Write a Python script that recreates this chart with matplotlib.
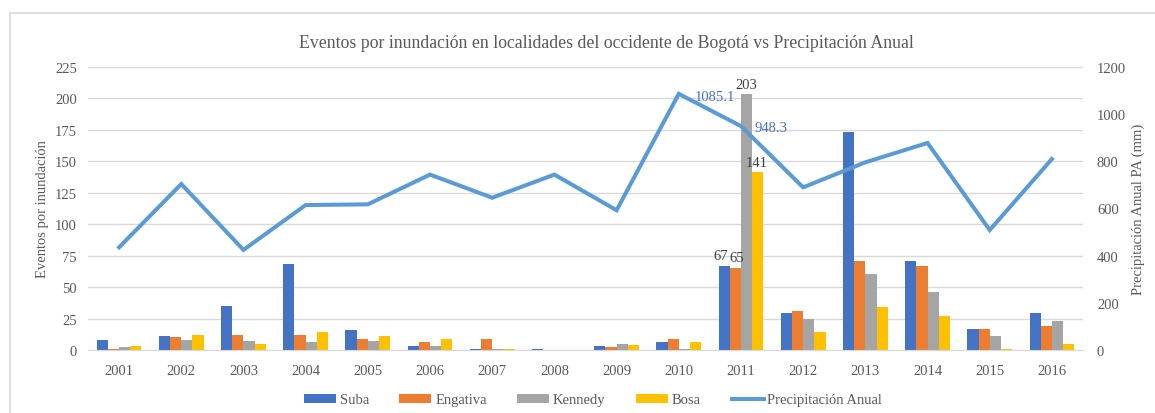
import numpy as np
import matplotlib
matplotlib.use("Agg")
import matplotlib.pyplot as plt
from matplotlib.patches import Rectangle

years = ['2001', '2002', '2003', '2004', '2005', '2006', '2007', '2008',
         '2009', '2010', '2011', '2012', '2013', '2014', '2015', '2016']
suba = [8, 11, 35, 68, 16, 3, 1, 1, 3, 6, 67, 29, 173, 71, 17, 29]
engativa = [1, 10, 12, 12, 9, 6, 9, 0, 2, 9, 65, 31, 71, 67, 17, 19]
kennedy = [2, 8, 7, 6, 7, 3, 1, 0, 5, 1, 203, 25, 60, 46, 11, 23]
bosa = [3, 12, 5, 14, 11, 9, 1, 0, 4, 6, 141, 14, 34, 27, 1, 5]
precip = [435, 703, 424, 614, 617, 743, 645, 743, 592, 1085.1, 948.3,
          689, 795, 877, 508, 809]

plt.rcParams['font.family'] = ['Liberation Serif', 'DejaVu Serif']
txt = '#595959'

fig = plt.figure(figsize=(11.55, 4.14), dpi=100)
ax = fig.add_axes([88 / 1155, 63 / 414, 995 / 1155, 283.3 / 414])
ax2 = ax.twinx()

x = np.arange(len(years))
w = 0.18
series = [(suba, 'Suba', '#4472C4'), (engativa, 'Engativa', '#ED7D31'),
          (kennedy, 'Kennedy', '#A5A5A5'), (bosa, 'Bosa', '#FFC000')]
bars = []
for i, (vals, name, col) in enumerate(series):
    b = ax.bar(x + (i - 1.5) * w, vals, w, color=col, label=name, zorder=2)
    bars.append(b)

ax.set_xlim(-0.5, len(years) - 0.5)
ax.set_ylim(0, 225)
ax.set_yticks(np.arange(0, 226, 25))
ax.set_xticks(x)
ax.set_xticklabels(years)
ax.grid(axis='y', color='#D9D9D9', linewidth=1, zorder=0)
ax.set_axisbelow(True)
for s in ['top', 'left', 'right']:
    ax.spines[s].set_visible(False)
    ax2.spines[s].set_visible(False)
ax.spines['bottom'].set_color('#D9D9D9')
ax2.spines['bottom'].set_visible(False)
ax.tick_params(length=0, labelsize=10.5, colors=txt, pad=8)
ax.tick_params(axis='x', pad=10)
ax.set_ylabel('Eventos por inundación', fontsize=10.5, color=txt, labelpad=4)

line, = ax2.plot(x, precip, color='#5B9BD5', linewidth=2.9, label='Precipitación Anual',
                 solid_joinstyle='miter', zorder=3)
ax2.set_ylim(0, 1200)
ax2.set_yticks(np.arange(0, 1201, 200))
ax2.tick_params(length=0, labelsize=10.5, colors=txt, pad=10)
ax2.set_ylabel('Precipitación Anual PA (mm)', fontsize=10.5, color=txt, labelpad=4)

# data labels 2011
i11 = years.index('2011')
ax.text(x[i11] - 1.5 * w - 0.06, suba[i11] + 3, str(suba[i11]), ha='center', va='bottom',
        fontsize=10.5, color='#404040')
ax.text(x[i11] - 0.5 * w + 0.02, engativa[i11] + 3, str(engativa[i11]), ha='center', va='bottom',
        fontsize=10.5, color='#404040')
ax.text(x[i11] + 0.5 * w, kennedy[i11] + 3, str(kennedy[i11]), ha='center', va='bottom',
        fontsize=10.5, color='#404040')
ax.text(x[i11] + 1.5 * w - 0.02, bosa[i11] + 3, str(bosa[i11]), ha='center', va='bottom',
        fontsize=10.5, color='#404040')
i10 = years.index('2010')
ax2.text(x[i10] + 0.25, precip[i10] - 10, f'{precip[i10]:.1f}', ha='left', va='center',
         fontsize=10.5, color='#4472C4')
ax2.text(x[i11] + 0.22, precip[i11] - 5, f'{precip[i11]:.1f}', ha='left', va='center',
         fontsize=10.5, color='#4472C4')

fig.text(606 / 1155, 1 - 43 / 414, 'Eventos por inundación en localidades del occidente de Bogotá vs Precipitación Anual',
         ha='center', va='center', fontsize=12.8, color=txt)

handles = bars + [line]
labels = ['Suba', 'Engativa', 'Kennedy', 'Bosa', 'Precipitación Anual']
fig.legend(handles, labels, loc='center', bbox_to_anchor=(593 / 1155, 1 - 401 / 414), ncol=5,
           frameon=False, fontsize=10.5, labelcolor=txt, handlelength=2.2, handleheight=0.55,
           handletextpad=0.25, columnspacing=2.1)

fig.patches.append(Rectangle((10 / 1155, -0.1), 1.2, 1 - 14 / 414 + 0.1, transform=fig.transFigure,
                             fill=False, edgecolor='#D9D9D9', linewidth=1.2))

fig.savefig('out.png', dpi=100)
